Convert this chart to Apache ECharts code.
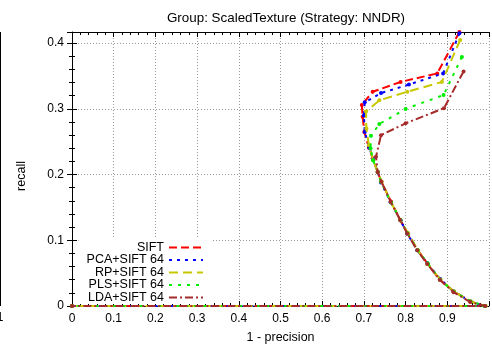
<!DOCTYPE html>
<html><head><meta charset="utf-8">
<script src="https://cdn.jsdelivr.net/npm/echarts@6/dist/echarts.min.js"></script>
<style>html,body{margin:0;padding:0;background:#fff}#c{width:492px;height:350px}</style>
</head><body><div id="c"></div>
<script>
const seriesNames = ['SIFT', 'PCA+SIFT 64', 'RP+SIFT 64', 'PLS+SIFT 64', 'LDA+SIFT 64'];
const xTicks = [0, 0.1, 0.2, 0.3, 0.4, 0.5, 0.6, 0.7, 0.8, 0.9];
const yTicks = [0, 0.1, 0.2, 0.3, 0.4];

const siftX = [0.929,0.876,0.788,0.721,0.695,0.697,0.701,0.712,0.721,0.733,0.742,0.765,0.787,0.805,0.829,0.853,0.882,0.916,0.956,0.990,0];
const siftY = [0.417,0.354,0.341,0.326,0.306,0.288,0.265,0.241,0.225,0.204,0.189,0.159,0.131,0.111,0.085,0.064,0.040,0.022,0.007,0.000,0];
const pcaX = [0.929,0.890,0.808,0.741,0.702,0.700,0.702,0.713,0.722,0.733,0.741,0.764,0.788,0.804,0.828,0.852,0.883,0.915,0.955,0.990,0];
const pcaY = [0.415,0.354,0.337,0.324,0.310,0.290,0.265,0.241,0.224,0.204,0.188,0.158,0.130,0.110,0.085,0.065,0.041,0.022,0.007,0.000,0];
const rpX = [0.931,0.887,0.804,0.737,0.705,0.706,0.712,0.722,0.733,0.742,0.765,0.787,0.805,0.829,0.852,0.884,0.916,0.955,0.992,0];
const rpY = [0.405,0.341,0.326,0.313,0.296,0.270,0.245,0.222,0.204,0.190,0.158,0.131,0.111,0.085,0.064,0.040,0.022,0.007,0.000,0];
const plsX = [0.935,0.891,0.800,0.737,0.717,0.716,0.722,0.733,0.741,0.765,0.788,0.804,0.829,0.853,0.883,0.915,0.956,0.990,0];
const plsY = [0.379,0.321,0.300,0.277,0.259,0.240,0.222,0.204,0.189,0.158,0.131,0.111,0.085,0.065,0.040,0.022,0.007,0.000,0];
const ldaX = [0.939,0.892,0.800,0.741,0.729,0.733,0.742,0.764,0.787,0.804,0.828,0.852,0.882,0.915,0.955,0.991,0];
const ldaY = [0.357,0.301,0.278,0.260,0.227,0.204,0.189,0.159,0.131,0.110,0.085,0.064,0.040,0.021,0.006,0.000,0];

const allX = [siftX, pcaX, rpX, plsX, ldaX];
const allY = [siftY, pcaY, rpY, plsY, ldaY];
const colors = ['#ff0000', '#0000ff', '#c8c800', '#00ee00', '#a52a2a'];
const dashes = [[8, 4], [3, 5], [9, 5], [3, 6], [8, 3, 2, 3]];

const FONT = 'Liberation Sans, Arial, Helvetica, sans-serif';
const isMajor = (v, arr) => arr.some(t => Math.abs(t - v) < 1e-6);

const chart = echarts.init(document.getElementById('c'), null, {renderer: 'canvas'});
const series = seriesNames.map((n, i) => ({
  name: n, type: 'line', z: 5 + i,
  data: allX[i].map((x, k) => [x, allY[i][k]]),
  showSymbol: true, symbol: 'circle', symbolSize: 4,
  itemStyle: {color: colors[i]},
  lineStyle: {color: colors[i], width: 2, type: dashes[i]},
  animation: false
}));

const gridLine = {show: true, lineStyle: {color: '#999', width: 1, type: [1, 2]}};
chart.setOption({
  animation: false,
  title: {text: 'Group: ScaledTexture (Strategy: NNDR)', left: 281, top: 7, textAlign: 'center',
    textStyle: {fontFamily: FONT, fontSize: 13.4, fontWeight: 'normal', color: '#000'}},
  grid: {left: 72, right: 0, top: 32, bottom: 44},
  legend: {
    orient: 'vertical', align: 'right', right: 280, top: 239,
    padding: [2, 8, 0, 8], itemGap: -0.5, itemWidth: 34, itemHeight: 10,
    backgroundColor: '#fff', z: 3,
    itemStyle: {opacity: 0},
    textStyle: {fontFamily: FONT, fontSize: 12.5, lineHeight: 12, color: '#000'},
    data: seriesNames
  },
  xAxis: [{
    type: 'value', min: 0, max: 1, interval: 0.1, position: 'bottom',
    name: '1 - precision', nameLocation: 'middle', nameGap: 25,
    nameTextStyle: {fontFamily: FONT, fontSize: 12.5, color: '#000'},
    axisLine: {show: true, onZero: false, lineStyle: {color: '#000', width: 1}},
    axisTick: {show: true, inside: true, length: 5, lineStyle: {color: '#000'}},
    minorTick: {show: true, splitNumber: 5, length: 3, lineStyle: {color: '#000'}},
    axisLabel: {margin: 7, fontFamily: FONT, fontSize: 12, color: '#000',
      formatter: v => isMajor(v, xTicks) ? String(v) : ''},
    splitLine: gridLine
  }, {
    type: 'value', min: 0, max: 1, interval: 0.1, position: 'top',
    axisLine: {show: true, onZero: false, lineStyle: {color: '#000', width: 1}},
    axisTick: {show: true, inside: true, length: 5, lineStyle: {color: '#000'}},
    minorTick: {show: true, splitNumber: 5, length: 3, lineStyle: {color: '#000'}},
    axisLabel: {show: false}, splitLine: {show: false}
  }],
  yAxis: [{
    type: 'value', min: 0, max: 0.417, interval: 0.1, position: 'left',
    axisLine: {show: true, onZero: false, lineStyle: {color: '#000', width: 1}},
    axisTick: {show: true, inside: true, length: 5, lineStyle: {color: '#000'}},
    minorTick: {show: true, splitNumber: 5, length: 3, lineStyle: {color: '#000'}},
    axisLabel: {margin: 8, fontFamily: FONT, fontSize: 12, color: '#000',
      formatter: v => isMajor(v, yTicks) ? String(v) : ''},
    splitLine: gridLine
  }, {
    type: 'value', min: 0, max: 0.417, interval: 0.1, position: 'right',
    axisLine: {show: false},
    axisTick: {show: true, inside: true, length: 5, lineStyle: {color: '#000'}},
    minorTick: {show: true, splitNumber: 5, length: 3, lineStyle: {color: '#000'}},
    axisLabel: {show: false}, splitLine: {show: false}
  }],
  graphic: [
    {type: 'text', x: 22, y: 176, rotation: Math.PI / 2,
      style: {text: 'recall', font: '12.5px ' + FONT, fill: '#000', textAlign: 'center', textVerticalAlign: 'middle'}},
    {type: 'text', x: 0, y: 318, style: {text: '1', font: '12px ' + FONT, fill: '#000', textAlign: 'center', textVerticalAlign: 'middle'}},
    {type: 'line', shape: {x1: 0.5, y1: 32, x2: 0.5, y2: 306}, style: {stroke: '#000', lineWidth: 1}}
  ],
  series: series
});
</script></body></html>
